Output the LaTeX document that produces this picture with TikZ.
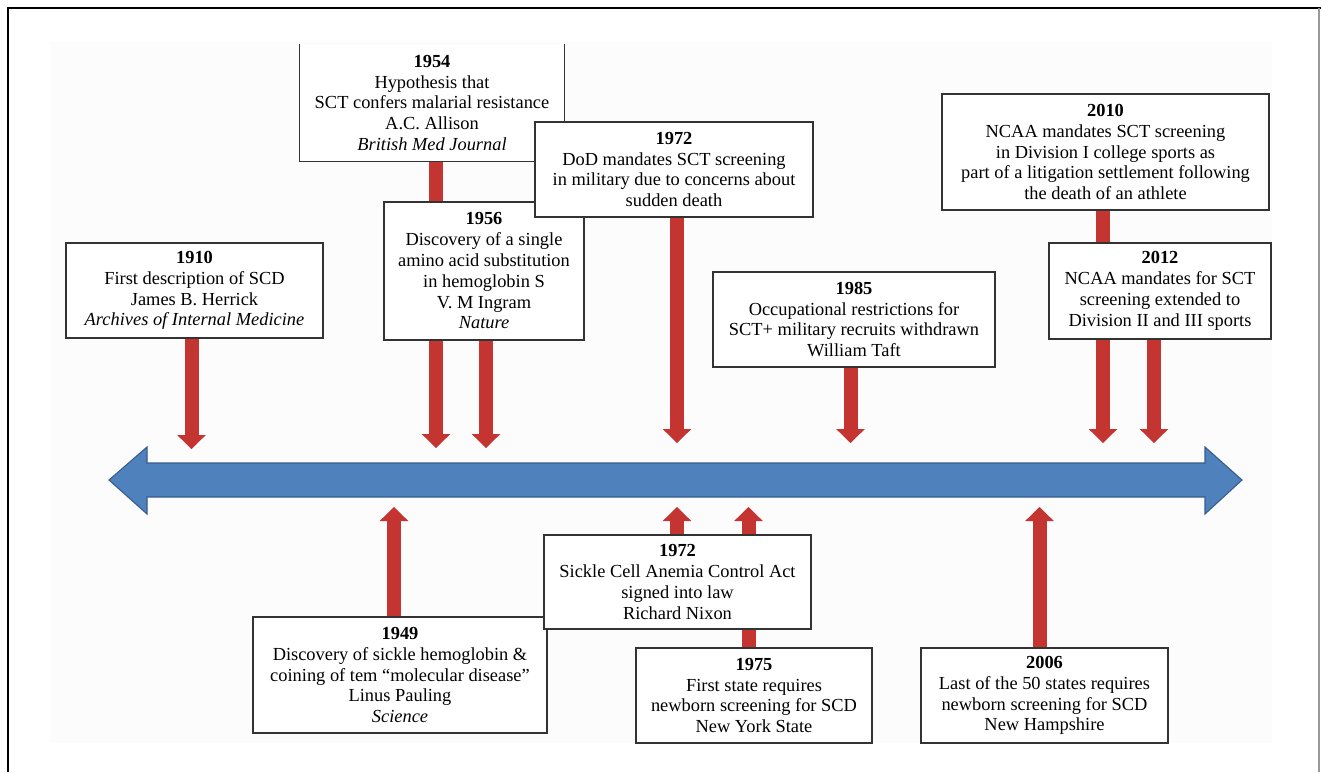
\documentclass[tikz,border=0pt]{standalone}
\usepackage{fontspec}
\setmainfont{Liberation Serif}
\usetikzlibrary{arrows.meta,backgrounds}
\definecolor{bluet}{RGB}{79,129,189}
\definecolor{bluel}{RGB}{56,93,138}
\definecolor{redt}{RGB}{196,52,48}

\begin{document}
\begin{tikzpicture}[x=0.75pt,y=-0.75pt,
    evt/.style={draw=black!80,line width=1.1pt,fill=white,align=center,inner sep=0pt,
      font=\fontsize{13.8}{15.6}\selectfont},
    tick/.style={redt,line width=10.5pt,-{Triangle[width=21.5pt,length=10.5pt,line width=0pt]}}]
  \useasboundingbox (0,0) rectangle (1321,772);

  % events above the line
  \node[evt,minimum width=192.75pt,minimum height=71.25pt] (b1910) at (194.5,290.5)
    {\textbf{1910}\\First description of SCD\\James B. Herrick\\\textit{Archives of Internal Medicine}};
  \node[evt,draw=none,minimum width=198pt,minimum height=87pt] (b1954) at (432,103)
    {\textbf{1954}\\Hypothesis that\\SCT confers malarial resistance\\A.C. Allison\\\textit{British Med Journal}};
  \draw[black!80,line width=1.1pt] (b1954.north west) -- (b1954.south west) -- (b1954.south east) -- (b1954.north east);
  \node[evt,minimum width=150pt,minimum height=103.5pt] (b1956) at (484,271)
    {\textbf{1956}\\Discovery of a single\\amino acid substitution\\in hemoglobin S\\V. M Ingram\\\textit{Nature}};
  \node[evt,minimum width=208.5pt,minimum height=71.25pt] (b1972a) at (674,169.5)
    {\textbf{1972}\\DoD mandates SCT screening\\in military due to concerns about\\sudden death};
  \node[evt,minimum width=211.5pt,minimum height=71.25pt] (b1985) at (854,319.5)
    {\textbf{1985}\\Occupational restrictions for\\SCT+ military recruits withdrawn\\William Taft};
  \node[evt,minimum width=245.25pt,minimum height=87pt] (b2010) at (1105.5,152)
    {\textbf{2010}\\NCAA mandates SCT screening\\in Division I college sports as\\part of a litigation settlement following\\the death of an athlete};
  \node[evt,minimum width=166.5pt,minimum height=72pt] (b2012) at (1160,291)
    {\textbf{2012}\\NCAA mandates for SCT\\screening extended to\\Division II and III sports};

  % events below the line
  \node[evt,minimum width=220.5pt,minimum height=87pt] (b1949) at (400,675)
    {\textbf{1949}\\Discovery of sickle hemoglobin \&\\coining of tem “molecular disease”\\Linus Pauling\\\textit{Science}};
  \node[evt,minimum width=200.25pt,minimum height=70.5pt] (b1972b) at (677.5,582)
    {\textbf{1972}\\Sickle Cell Anemia Control Act\\signed into law\\Richard Nixon};
  \node[evt,minimum width=177pt,minimum height=71.25pt] (b1975) at (754,695.5)
    {\textbf{1975}\\First state requires\\newborn screening for SCD\\New York State};
  \node[evt,minimum width=185.25pt,minimum height=71.25pt] (b2006) at (1044.5,695.5)
    {\textbf{2006}\\Last of the 50 states requires\\newborn screening for SCD\\New Hampshire};

  \coordinate (t1910) at (191.5,449);
  \coordinate (t1954) at (436,448);
  \coordinate (t1956) at (486,448);
  \coordinate (t1972a) at (677,443);
  \coordinate (t1985) at (850.5,443);
  \coordinate (t2010) at (1103,443);
  \coordinate (t2012) at (1154,443);
  \coordinate (t1949) at (394,507);
  \coordinate (t1972b) at (677,507);
  \coordinate (t1975) at (748.5,507);
  \coordinate (t2006) at (1039.5,507);

  \begin{scope}[on background layer]
    \fill[black!1] (50,42) rectangle (1272,743);
    \draw[fill=bluet,draw=bluel,line width=0.8pt] (109,480) -- (147,447) -- (147,463) -- (1205,463)
      -- (1205,447) -- (1242,480) -- (1205,514) -- (1205,497) -- (147,497) -- (147,514) -- cycle;
    \foreach \y in {1910,1954,1956,1972a,1985,2010,2012}
      \draw[tick] (b\y.south -| t\y) -- (t\y);
    \foreach \y in {1949,1972b,1975,2006}
      \draw[tick] (b\y.north -| t\y) -- (t\y);
  \end{scope}

  \draw[line width=1.8pt] (8,772) -- (8,8) -- (1321,8);
  \draw[black!40,line width=0.8pt] (1319,8) -- (1319,772);
\end{tikzpicture}
\end{document}
